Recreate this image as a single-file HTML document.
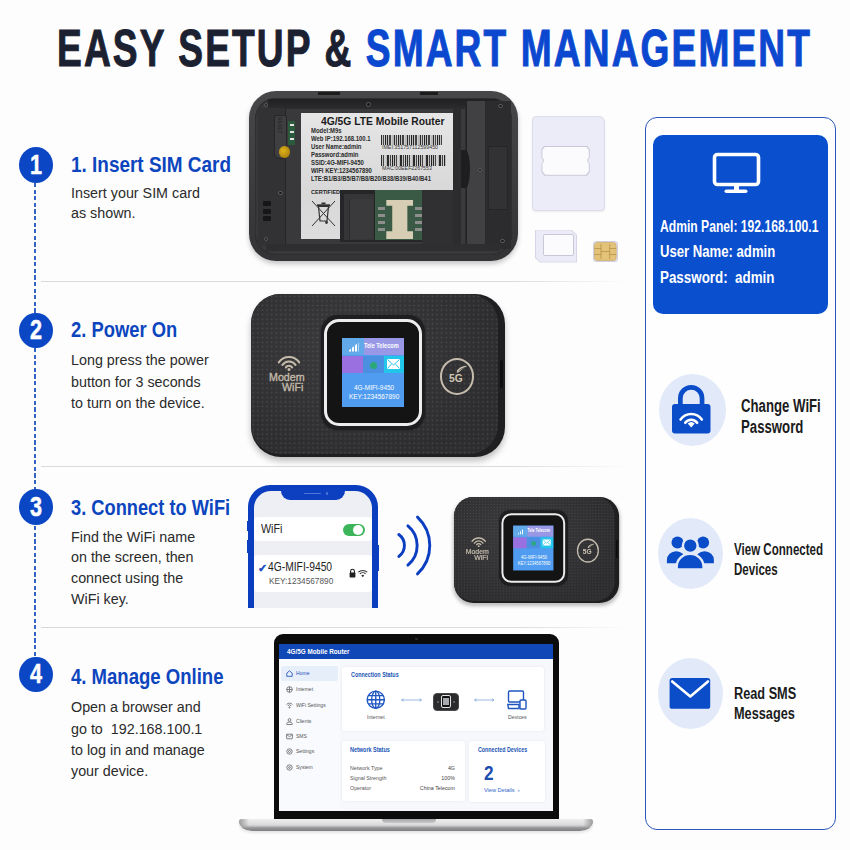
<!DOCTYPE html><html><head><meta charset="utf-8"><style>
*{margin:0;padding:0;box-sizing:border-box}
html,body{width:850px;height:850px;overflow:hidden;background:#fdfdfd}
body{position:relative;font-family:"Liberation Sans",sans-serif}
.a{position:absolute}
.t{position:absolute;white-space:nowrap;transform-origin:0 0}
</style></head><body>
<div class="t" style="left:57.00px;top:23.13px;font-size:51px;line-height:51px;color:#1b2130;font-weight:bold;transform:scaleX(0.728);-webkit-text-stroke:1px #1b2130;letter-spacing:2.9px;word-spacing:0px">EASY SETUP &amp; <span style="color:#0b48cf;-webkit-text-stroke:1px #0b48cf">SMART MANAGEMENT</span></div>
<div class="a" style="left:41px;top:281px;width:590px;height:1.2px;background:linear-gradient(90deg,#d9d9d9,#dcdcdc 80%,rgba(224,224,224,0))"></div>
<div class="a" style="left:41px;top:466px;width:590px;height:1.2px;background:linear-gradient(90deg,#d9d9d9,#dcdcdc 80%,rgba(224,224,224,0))"></div>
<div class="a" style="left:41px;top:627px;width:590px;height:1.2px;background:linear-gradient(90deg,#d9d9d9,#dcdcdc 80%,rgba(224,224,224,0))"></div>
<div class="a" style="left:34.4px;top:183px;width:1.7px;height:474px;background:repeating-linear-gradient(180deg,#3563c4 0 4.2px,transparent 4.2px 6.6px)"></div>
<div class="a" style="left:19.10px;top:147.20px;width:34px;height:35.6px;border-radius:50%;background:#0b47c4"></div>
<div class="t" style="left:29.60px;top:151.84px;font-size:27px;line-height:27px;color:#fff;font-weight:bold;transform:scaleX(0.8);-webkit-text-stroke:0.5px #fff">1</div>
<div class="t" style="left:71.30px;top:152.98px;font-size:22.7px;line-height:22.7px;color:#0c45be;font-weight:bold;transform:scaleX(0.835);">1. Insert SIM Card</div>
<div class="t" style="left:71.00px;top:182.66px;font-size:15.4px;line-height:20px;color:#2b2b2b;font-weight:normal;transform:scaleX(0.93);">Insert your SIM card<br>as shown.</div>
<div class="a" style="left:19.10px;top:312.70px;width:34px;height:35.6px;border-radius:50%;background:#0b47c4"></div>
<div class="t" style="left:29.60px;top:317.34px;font-size:27px;line-height:27px;color:#fff;font-weight:bold;transform:scaleX(0.8);-webkit-text-stroke:0.5px #fff">2</div>
<div class="t" style="left:71.30px;top:318.18px;font-size:22.7px;line-height:22.7px;color:#0c45be;font-weight:bold;transform:scaleX(0.81);">2. Power On</div>
<div class="t" style="left:71.00px;top:349.26px;font-size:15.4px;line-height:21.4px;color:#2b2b2b;font-weight:normal;transform:scaleX(0.93);">Long press the power<br>button for 3 seconds<br>to turn on the device.</div>
<div class="a" style="left:19.10px;top:489.20px;width:34px;height:35.6px;border-radius:50%;background:#0b47c4"></div>
<div class="t" style="left:29.60px;top:493.84px;font-size:27px;line-height:27px;color:#fff;font-weight:bold;transform:scaleX(0.8);-webkit-text-stroke:0.5px #fff">3</div>
<div class="t" style="left:71.30px;top:495.78px;font-size:22.7px;line-height:22.7px;color:#0c45be;font-weight:bold;transform:scaleX(0.805);">3. Connect to WiFi</div>
<div class="t" style="left:71.00px;top:526.76px;font-size:15.4px;line-height:20.6px;color:#2b2b2b;font-weight:normal;transform:scaleX(0.93);">Find the WiFi name<br>on the screen, then<br>connect using the<br>WiFi key.</div>
<div class="a" style="left:19.10px;top:656.70px;width:34px;height:35.6px;border-radius:50%;background:#0b47c4"></div>
<div class="t" style="left:29.60px;top:661.34px;font-size:27px;line-height:27px;color:#fff;font-weight:bold;transform:scaleX(0.8);-webkit-text-stroke:0.5px #fff">4</div>
<div class="t" style="left:71.30px;top:665.18px;font-size:22.7px;line-height:22.7px;color:#0c45be;font-weight:bold;transform:scaleX(0.817);">4. Manage Online</div>
<div class="t" style="left:71.00px;top:696.46px;font-size:15.4px;line-height:21.2px;color:#2b2b2b;font-weight:normal;transform:scaleX(0.93);">Open a browser and<br>go to&nbsp; 192.168.100.1<br>to log in and manage<br>your device.</div>
<div class="a" style="left:644.5px;top:117px;width:191.5px;height:713px;border:1.6px solid #2a55bd;border-radius:12px;background:#fefefe"></div>
<div class="a" style="left:653px;top:135px;width:175px;height:179px;border-radius:10px;background:#0a4fce"></div>
<svg class="a" style="left:705px;top:148px" width="62" height="50" viewBox="0 0 62 50"><rect x="9.5" y="6.5" width="44" height="30" rx="3" fill="none" stroke="#fff" stroke-width="3.6"/><rect x="29" y="37" width="5" height="6" fill="#fff"/><rect x="19.5" y="41.5" width="23" height="3.6" rx="1.8" fill="#fff"/></svg>
<div class="t" style="left:659.50px;top:218.66px;font-size:16px;line-height:16px;color:#fff;font-weight:bold;transform:scaleX(0.758);">Admin Panel: 192.168.100.1</div>
<div class="t" style="left:659.50px;top:244.06px;font-size:16px;line-height:16px;color:#fff;font-weight:bold;transform:scaleX(0.82);">User Name: admin</div>
<div class="t" style="left:659.50px;top:270.06px;font-size:16px;line-height:16px;color:#fff;font-weight:bold;transform:scaleX(0.836);">Password:&nbsp; admin</div>
<div class="a" style="left:658.75px;top:373.80px;width:67.7px;height:72.4px;border-radius:50%;background:#e2eaf9"></div>
<div class="a" style="left:658.00px;top:517.50px;width:65px;height:71px;border-radius:50%;background:#e2eaf9"></div>
<div class="a" style="left:658.45px;top:657.70px;width:64.5px;height:71px;border-radius:50%;background:#e2eaf9"></div>
<svg class="a" style="left:670px;top:382px" width="44" height="54" viewBox="0 0 44 54"><path d="M10.35 22 V16.2 a10.85 10.85 0 0 1 21.7 0 V22" fill="none" stroke="#0b4cc9" stroke-width="4.7"/><rect x="2" y="21.9" width="38.5" height="29.6" rx="3" fill="#0b4cc9"/><path d="M10.55 37.54 A13 13 0 0 1 31.85 37.54" fill="none" stroke="#fff" stroke-width="2.6" stroke-linecap="round"/><path d="M15.22 40.8 A7.3 7.3 0 0 1 27.18 40.8" fill="none" stroke="#fff" stroke-width="2.6" stroke-linecap="round"/><path d="M21.2 45.6 L17.72 41.54 A5.2 5.2 0 0 1 24.68 41.54 Z" fill="#fff"/></svg>
<div class="t" style="left:740.80px;top:395.50px;font-size:17.6px;line-height:21px;color:#1b1b1b;font-weight:bold;transform:scaleX(0.75);">Change WiFi<br>Password</div>
<svg class="a" style="left:655px;top:515px" width="70" height="75" viewBox="655 515 70 75"><g fill="#0b4cc9"><circle cx="677.5" cy="542.5" r="6"/><circle cx="703.1" cy="542.5" r="6"/><path d="M666.9 563.2 V560 a9.2 8.8 0 0 1 9.2 -8.8 h0.2 a9.2 8.8 0 0 1 9.2 8.8 V563.2 z"/><path d="M695.3 563.2 V560 a9.2 8.8 0 0 1 9.2 -8.8 h0.2 a9.2 8.8 0 0 1 9.2 8.8 V563.2 z"/></g><g fill="#0b4cc9" stroke="#e2eaf9" stroke-width="2.4"><circle cx="690.3" cy="545.6" r="7.4"/><path d="M676.7 569.4 V566.5 a13.4 12.6 0 0 1 26.8 0 V569.4 z"/></g></svg>
<div class="t" style="left:733.50px;top:539.51px;font-size:17px;line-height:20px;color:#1b1b1b;font-weight:bold;transform:scaleX(0.68);">View Connected<br>Devices</div>
<svg class="a" style="left:655px;top:655px" width="70" height="75" viewBox="655 655 70 75"><rect x="669.6" y="678" width="40.6" height="30.8" rx="2.6" fill="#0b4cc9"/><path d="M672.2 681.5 L690.3 696.5 L708 681.5" fill="none" stroke="#fff" stroke-width="2.6" stroke-linecap="round" stroke-linejoin="round"/></svg>
<div class="t" style="left:733.50px;top:682.54px;font-size:17.2px;line-height:20px;color:#1b1b1b;font-weight:bold;transform:scaleX(0.74);">Read SMS<br>Messages</div>
<div class="a" style="left:248.5px;top:91px;width:269.5px;height:170px;border-radius:27px;background:linear-gradient(180deg,#47474a,#333336);box-shadow:0 3px 5px rgba(0,0,0,0.22)"></div>
<div class="a" style="left:255px;top:98px;width:256.5px;height:157px;border-radius:21px;background:#39393b;box-shadow:inset 0 0 2px #151515"></div>
<div class="a" style="left:268px;top:99px;width:230px;height:10px;background:linear-gradient(180deg,#202022,#2c2c2e)"></div>
<div class="a" style="left:318px;top:92px;width:16px;height:3px;background:#1c1c1c"></div>
<div class="a" style="left:330px;top:92px;width:10px;height:3px;background:#1c1c1c"></div>
<div class="a" style="left:420px;top:92px;width:18px;height:3px;background:#1c1c1c"></div>
<div class="a" style="left:258px;top:108px;width:28px;height:138px;background:#323234"></div>
<div class="a" style="left:285px;top:108px;width:1.2px;height:138px;background:#262628"></div>
<div class="a" style="left:274px;top:115px;width:13px;height:44px;border-radius:3px 3px 6px 6px;background:#3f3f41;border:0.8px solid #262628"></div>
<div class="t" style="left:276px;top:117px;font-size:5px;line-height:5px;color:#222;transform-origin:0 0;transform:rotate(90deg) translate(0,-6px)">RESET</div>
<div class="a" style="left:287.7px;top:121.3px;width:7.3px;height:24px;background:#2b5a3c"></div>
<div class="a" style="left:289.5px;top:124px;width:4px;height:2.2px;background:#e2e2e2"></div>
<div class="a" style="left:289.5px;top:131px;width:4px;height:2.2px;background:#e2e2e2"></div>
<div class="a" style="left:289.5px;top:138px;width:4px;height:2.2px;background:#e2e2e2"></div>
<div class="a" style="left:279.4px;top:146.3px;width:10.4px;height:11.5px;border-radius:50%;background:radial-gradient(circle at 40% 40%,#e0b21a,#9a7208)"></div>
<div class="a" style="left:262.7px;top:201px;width:8.3px;height:5.2px;border-radius:1px;background:#161618"></div>
<div class="a" style="left:262.7px;top:208.5px;width:8.3px;height:5.2px;border-radius:1px;background:#161618"></div>
<div class="a" style="left:262.7px;top:216px;width:8.3px;height:5.2px;border-radius:1px;background:#161618"></div>
<div class="a" style="left:263.6px;top:102.5px;width:4.4px;height:4.4px;border-radius:50%;background:#1b1b1d;border:0.8px solid #5a5a5c"></div>
<div class="a" style="left:278.2px;top:191.0px;width:4.4px;height:4.4px;border-radius:50%;background:#1b1b1d;border:0.8px solid #5a5a5c"></div>
<div class="a" style="left:263.6px;top:236.8px;width:4.4px;height:4.4px;border-radius:50%;background:#1b1b1d;border:0.8px solid #5a5a5c"></div>
<div class="a" style="left:498.2px;top:103.5px;width:4.4px;height:4.4px;border-radius:50%;background:#1b1b1d;border:0.8px solid #5a5a5c"></div>
<div class="a" style="left:500.3px;top:238.8px;width:4.4px;height:4.4px;border-radius:50%;background:#1b1b1d;border:0.8px solid #5a5a5c"></div>
<div class="a" style="left:477.8px;top:167.8px;width:4.4px;height:4.4px;border-radius:50%;background:#1b1b1d;border:0.8px solid #5a5a5c"></div>
<div class="a" style="left:366.40000000000003px;top:102.3px;width:4.4px;height:4.4px;border-radius:50%;background:#1b1b1d;border:0.8px solid #5a5a5c"></div>
<div class="a" style="left:300.5px;top:113px;width:152.5px;height:77px;background:linear-gradient(180deg,#e6e6e6,#d8d8d8)"></div>
<div class="a" style="left:300.5px;top:189px;width:39.5px;height:49.5px;background:linear-gradient(180deg,#d8d8d8,#dcdcdc)"></div>
<div class="t" style="left:320.50px;top:116.73px;font-size:10px;line-height:10px;color:#1a1a1a;font-weight:bold;transform:scaleX(1.03);">4G/5G LTE Mobile Router</div>
<div class="t" style="left:310.80px;top:126.97px;font-size:6.6px;line-height:8.08px;color:#2a2a2a;font-weight:bold;transform:scaleX(0.9);">Model:M9s<br>Web IP:192.168.100.1<br>User Name:admin<br>Password:admin<br>SSID:4G-MIFI-9450<br>WIFI KEY:1234567890<br>LTE:B1/B3/B5/B7/B8/B20/B38/B39/B40/B41</div>
<div class="a" style="left:381px;top:134.5px;width:61px;height:10.5px;background:repeating-linear-gradient(90deg,#2a2a2a 0 1px,#c4c4c4 1px 2px,#444 2px 3.5px,#d0d0d0 3.5px 4.5px,#222 4.5px 5px,#b8b8b8 5px 6.5px)"></div>
<div class="t" style="left:381.50px;top:145.43px;font-size:5.4px;line-height:5.4px;color:#333;font-weight:normal;transform:scaleX(0.98);">IMEI:351757112599450</div>
<div class="a" style="left:381px;top:155px;width:65px;height:10.5px;background:repeating-linear-gradient(90deg,#2a2a2a 0 1.5px,#c4c4c4 1.5px 2.5px,#444 2.5px 3.5px,#d0d0d0 3.5px 5px,#222 5px 5.5px,#b8b8b8 5.5px 6.5px)"></div>
<div class="t" style="left:381.50px;top:166.13px;font-size:5.4px;line-height:5.4px;color:#333;font-weight:normal;transform:scaleX(0.98);">MAC:00EEF2267553</div>
<div class="t" style="left:310.80px;top:190.09px;font-size:5.8px;line-height:5.8px;color:#222;font-weight:bold;transform:scaleX(0.95);">CERTIFIED</div>
<svg class="a" style="left:311px;top:200px" width="25" height="28" viewBox="0 0 25 28"><path d="M1 1 L24 26 M24 1 L1 26" stroke="#333" stroke-width="1"/><path d="M7.5 6.5 L9 21 H16 L17.5 6.5 Z" fill="none" stroke="#333" stroke-width="1.2"/><rect x="6" y="4.3" width="13" height="1.8" fill="#333"/><rect x="10.5" y="2.5" width="4" height="1.8" fill="#333"/><circle cx="15.5" cy="22.5" r="1.4" fill="#333"/></svg>
<div class="a" style="left:340px;top:190px;width:124px;height:52px;background:#262628"></div>
<div class="a" style="left:344px;top:194px;width:30px;height:46px;background:#353537"></div>
<div class="a" style="left:349px;top:199px;width:24px;height:40px;background:#3a3a3c;border-left:1px solid #2a2a2c"></div>
<div class="a" style="left:374.6px;top:190.4px;width:47.6px;height:50px;background:#3b5a45"></div>
<div class="a" style="left:386.3px;top:200px;width:27px;height:39px;background:#d6cdb4;clip-path:polygon(0 0,100% 0,100% 15%,78% 15%,78% 80%,100% 80%,100% 100%,0 100%,0 80%,22% 80%,22% 15%,0 15%)"></div>
<div class="a" style="left:378px;top:207px;width:7px;height:3px;background:#8e8e8e"></div>
<div class="a" style="left:414.5px;top:207px;width:7px;height:3px;background:#8e8e8e"></div>
<div class="a" style="left:378px;top:214px;width:7px;height:3px;background:#8e8e8e"></div>
<div class="a" style="left:414.5px;top:214px;width:7px;height:3px;background:#8e8e8e"></div>
<div class="a" style="left:378px;top:221px;width:7px;height:3px;background:#8e8e8e"></div>
<div class="a" style="left:414.5px;top:221px;width:7px;height:3px;background:#8e8e8e"></div>
<div class="a" style="left:378px;top:228px;width:7px;height:3px;background:#8e8e8e"></div>
<div class="a" style="left:414.5px;top:228px;width:7px;height:3px;background:#8e8e8e"></div>
<div class="a" style="left:422.2px;top:190px;width:42px;height:54px;background:#303032"></div>
<div class="a" style="left:453px;top:109px;width:13px;height:136px;background:#2c2c2e"></div>
<div class="a" style="left:461px;top:109px;width:4px;height:136px;background:#3a3a3c"></div>
<div class="a" style="left:466px;top:101px;width:19px;height:148px;background:#414143;border-left:1px solid #222"></div>
<div class="a" style="left:461px;top:150px;width:9px;height:38px;border-radius:0 50% 50% 0;background:#1e1e20"></div>
<div class="a" style="left:485px;top:101px;width:26px;height:148px;background:#2c2c2e"></div>
<div class="a" style="left:488px;top:146px;width:20px;height:64px;background:#323234;border:0.8px solid #262628"></div>
<div class="a" style="left:477.8px;top:167.8px;width:4.4px;height:4.4px;border-radius:50%;background:#1b1b1d;border:0.8px solid #5a5a5c"></div>
<div class="a" style="left:498.2px;top:103.5px;width:4.4px;height:4.4px;border-radius:50%;background:#1b1b1d;border:0.8px solid #5a5a5c"></div>
<div class="a" style="left:500.3px;top:238.8px;width:4.4px;height:4.4px;border-radius:50%;background:#1b1b1d;border:0.8px solid #5a5a5c"></div>
<div class="a" style="left:266px;top:244px;width:234px;height:7px;background:#2e2e30"></div>
<div class="a" style="left:532.3px;top:116.4px;width:73px;height:95px;border-radius:4px 6px 4px 4px;background:#ececf8;border:0.8px solid #dcdcec;box-shadow:0 1px 2px rgba(0,0,0,0.08)"></div>
<div class="a" style="left:541.4px;top:145.6px;width:48.4px;height:30.1px;background:#c9c9d9;clip-path:polygon(6% 0,94% 0,100% 12%,100% 40%,97% 45%,97% 55%,100% 60%,100% 88%,94% 100%,6% 100%,0 88%,0 60%,3% 55%,3% 45%,0 40%,0 12%)"></div>
<div class="a" style="left:542.4px;top:146.6px;width:46.4px;height:28.1px;background:#fbfbfd;clip-path:polygon(6% 0,94% 0,100% 12%,100% 40%,97% 45%,97% 55%,100% 60%,100% 88%,94% 100%,6% 100%,0 88%,0 60%,3% 55%,3% 45%,0 40%,0 12%)"></div>
<div class="a" style="left:535px;top:229.5px;width:42px;height:33px;background:#d6d6e6;clip-path:polygon(0 0,86% 0,100% 16%,100% 100%,12% 100%,0 86%)"></div>
<div class="a" style="left:535.8px;top:230.3px;width:40.4px;height:31.4px;background:#ebebf7;clip-path:polygon(0 0,86% 0,100% 16%,100% 100%,12% 100%,0 86%)"></div>
<div class="a" style="left:543.2px;top:233.5px;width:30.5px;height:22.5px;border-radius:2px;background:#fbfbfd;border:1.1px solid #c8c8d8"></div>
<div class="a" style="left:592.5px;top:240.5px;width:25.5px;height:21px;border-radius:3px;background:#e4e4f2;border:0.8px solid #d0d0e2"></div>
<svg class="a" style="left:594.3px;top:241.6px" width="22.7" height="19" viewBox="0 0 22.7 19"><rect x="0.5" y="0.5" width="21.7" height="18" rx="3" fill="#e3c27a" stroke="#c9a457" stroke-width="0.6"/><g fill="none" stroke="#a88435" stroke-width="0.6"><path d="M0.5 6.5 H7 M0.5 12.5 H7 M15.7 6.5 H22.2 M15.7 12.5 H22.2 M7 2 V17 M15.7 2 V17 M7 9.5 H15.7"/></g></svg>
<div class="a" style="left:251px;top:294px;width:254px;height:163px;transform-origin:0 0;transform:scale(1.0)">
<div class="a" style="left:0;top:0;width:254px;height:163px;border-radius:30px;background:#1f1f21;box-shadow:0 4px 6px rgba(0,0,0,0.25)"></div>
<div class="a" style="left:0;top:0;width:247px;height:160px;border-radius:29px;background:radial-gradient(ellipse at 40% 35%,#3b3b3d,#2d2d2f 75%);"></div>
<div class="a" style="left:0;top:0;width:247px;height:160px;border-radius:29px;background-image:radial-gradient(circle,rgba(255,255,255,0.10) 0.75px,transparent 1.15px);background-size:4.6px 4.6px"></div>
<div class="a" style="left:249px;top:66px;width:3px;height:28px;border-radius:2px;background:#0e0e0e"></div>
<div class="a" style="left:69.5px;top:21px;width:104.6px;height:114.7px;border-radius:17px;background:#1e1e20;box-shadow:0 0 2px rgba(0,0,0,0.5)"></div>
<div class="a" style="left:73px;top:24.5px;width:97.6px;height:107.7px;border-radius:15px;border:3px solid #ededed;background:#141415"></div>
<div class="a" style="left:90.5px;top:43.6px;width:62.5px;height:69.4px;background:#4f9cf0;overflow:hidden"><div class="a" style="left:0;top:0;width:22px;height:17.7px;background:#62a9ea"></div><div class="a" style="left:22px;top:0;width:40.5px;height:17.7px;background:#9898e6"></div><div class="a" style="left:0;top:18px;width:21px;height:17.6px;background:#9a6fe0"></div><div class="a" style="left:21.5px;top:18px;width:20.5px;height:17.6px;background:#4a8fe0"></div><div class="a" style="left:42.5px;top:18px;width:20px;height:17.6px;background:#22c6ea"></div><div class="a" style="left:6px;top:5px;width:11px;height:9px;background:linear-gradient(90deg,transparent 0 1px,#fff 1px 3px,transparent 3px 4px,#fff 4px 6px,transparent 6px 7px,#fff 7px 9px,transparent 9px 10px,#fff 10px 12px);clip-path:polygon(0 100%,100% 0,100% 100%)"></div><svg class="a" style="left:45.5px;top:21.5px" width="13" height="10" viewBox="0 0 13 10"><rect width="13" height="10" fill="#fff"/><path d="M0.5 0.5 L6.5 6 L12.5 0.5 M0.5 9.5 L4.5 5 M12.5 9.5 L8.5 5" fill="none" stroke="#22c6ea" stroke-width="1"/></svg><div class="a" style="left:28px;top:24px;width:7px;height:7px;border-radius:50%;background:#2aa878"></div></div>
<div class="t" style="left:113px;top:48.37px;font-size:7px;line-height:7px;color:#fff;transform:scaleX(0.8)"><b>Tele Telecom</b></div>
<div class="t" style="left:103px;top:89.65px;font-size:7.5px;line-height:7.5px;color:#fff;transform:scaleX(0.86)">4G-MIFI-9450</div>
<div class="t" style="left:98px;top:98.65px;font-size:7.5px;line-height:7.5px;color:#fff;transform:scaleX(0.86)">KEY:1234567890</div>
<svg class="a" style="left:26px;top:61px" width="24" height="17" viewBox="0 0 24 17"><g fill="none" stroke="#c4bbab" stroke-width="2.1" stroke-linecap="round"><path d="M1.8 7.3 A12.5 12.5 0 0 1 22.2 7.3"/><path d="M5.45 9.9 A8 8 0 0 1 18.55 9.9"/><path d="M8.9 12.3 A3.8 3.8 0 0 1 15.1 12.3"/></g><circle cx="12" cy="14.6" r="1.5" fill="#c4bbab"/></svg>
<div class="t" style="left:18.2px;top:78.4px;font-size:11px;line-height:11px;color:#c4bbab;transform:scaleX(0.97);-webkit-text-stroke:0.35px #c4bbab">Modem</div>
<div class="t" style="left:30.9px;top:87.6px;font-size:11px;line-height:11px;color:#c4bbab;transform:scaleX(0.97);-webkit-text-stroke:0.35px #c4bbab">WiFi</div>
<div class="a" style="left:188.7px;top:63.8px;width:34.5px;height:36.8px;border-radius:50%;border:2.1px solid #c5bcae"></div>
<div class="t" style="left:197.6px;top:79px;font-size:11px;line-height:11px;font-weight:bold;color:#cfc6b6;transform:scaleX(0.93)">5G</div>
<svg class="a" style="left:204.5px;top:70.5px" width="12" height="8" viewBox="0 0 12 8"><path d="M0.5 7.5 Q2 1 11.5 0.8 Q8 3 6 4.5 Q4 6 2.5 7.5 z" fill="#cfc6b6"/><path d="M2.5 6 Q5 3.2 9 2.6" fill="none" stroke="#2a2a2c" stroke-width="0.6"/></svg>
</div>
<div class="a" style="left:453.6px;top:497px;width:254px;height:163px;transform-origin:0 0;transform:scale(0.65)">
<div class="a" style="left:0;top:0;width:254px;height:163px;border-radius:30px;background:#1f1f21;box-shadow:0 4px 6px rgba(0,0,0,0.25)"></div>
<div class="a" style="left:0;top:0;width:247px;height:160px;border-radius:29px;background:radial-gradient(ellipse at 40% 35%,#3b3b3d,#2d2d2f 75%);"></div>
<div class="a" style="left:0;top:0;width:247px;height:160px;border-radius:29px;background-image:radial-gradient(circle,rgba(255,255,255,0.10) 0.75px,transparent 1.15px);background-size:4.6px 4.6px"></div>
<div class="a" style="left:249px;top:66px;width:3px;height:28px;border-radius:2px;background:#0e0e0e"></div>
<div class="a" style="left:69.5px;top:21px;width:104.6px;height:114.7px;border-radius:17px;background:#1e1e20;box-shadow:0 0 2px rgba(0,0,0,0.5)"></div>
<div class="a" style="left:73px;top:24.5px;width:97.6px;height:107.7px;border-radius:15px;border:3px solid #ededed;background:#141415"></div>
<div class="a" style="left:90.5px;top:43.6px;width:62.5px;height:69.4px;background:#4f9cf0;overflow:hidden"><div class="a" style="left:0;top:0;width:22px;height:17.7px;background:#62a9ea"></div><div class="a" style="left:22px;top:0;width:40.5px;height:17.7px;background:#9898e6"></div><div class="a" style="left:0;top:18px;width:21px;height:17.6px;background:#9a6fe0"></div><div class="a" style="left:21.5px;top:18px;width:20.5px;height:17.6px;background:#4a8fe0"></div><div class="a" style="left:42.5px;top:18px;width:20px;height:17.6px;background:#22c6ea"></div><div class="a" style="left:6px;top:5px;width:11px;height:9px;background:linear-gradient(90deg,transparent 0 1px,#fff 1px 3px,transparent 3px 4px,#fff 4px 6px,transparent 6px 7px,#fff 7px 9px,transparent 9px 10px,#fff 10px 12px);clip-path:polygon(0 100%,100% 0,100% 100%)"></div><svg class="a" style="left:45.5px;top:21.5px" width="13" height="10" viewBox="0 0 13 10"><rect width="13" height="10" fill="#fff"/><path d="M0.5 0.5 L6.5 6 L12.5 0.5 M0.5 9.5 L4.5 5 M12.5 9.5 L8.5 5" fill="none" stroke="#22c6ea" stroke-width="1"/></svg><div class="a" style="left:28px;top:24px;width:7px;height:7px;border-radius:50%;background:#2aa878"></div></div>
<div class="t" style="left:113px;top:48.37px;font-size:7px;line-height:7px;color:#fff;transform:scaleX(0.8)"><b>Tele Telecom</b></div>
<div class="t" style="left:103px;top:89.65px;font-size:7.5px;line-height:7.5px;color:#fff;transform:scaleX(0.86)">4G-MIFI-9450</div>
<div class="t" style="left:98px;top:98.65px;font-size:7.5px;line-height:7.5px;color:#fff;transform:scaleX(0.86)">KEY:1234567890</div>
<svg class="a" style="left:26px;top:61px" width="24" height="17" viewBox="0 0 24 17"><g fill="none" stroke="#c4bbab" stroke-width="2.1" stroke-linecap="round"><path d="M1.8 7.3 A12.5 12.5 0 0 1 22.2 7.3"/><path d="M5.45 9.9 A8 8 0 0 1 18.55 9.9"/><path d="M8.9 12.3 A3.8 3.8 0 0 1 15.1 12.3"/></g><circle cx="12" cy="14.6" r="1.5" fill="#c4bbab"/></svg>
<div class="t" style="left:18.2px;top:78.4px;font-size:11px;line-height:11px;color:#c4bbab;transform:scaleX(0.97);-webkit-text-stroke:0.35px #c4bbab">Modem</div>
<div class="t" style="left:30.9px;top:87.6px;font-size:11px;line-height:11px;color:#c4bbab;transform:scaleX(0.97);-webkit-text-stroke:0.35px #c4bbab">WiFi</div>
<div class="a" style="left:188.7px;top:63.8px;width:34.5px;height:36.8px;border-radius:50%;border:2.1px solid #c5bcae"></div>
<div class="t" style="left:197.6px;top:79px;font-size:11px;line-height:11px;font-weight:bold;color:#cfc6b6;transform:scaleX(0.93)">5G</div>
<svg class="a" style="left:204.5px;top:70.5px" width="12" height="8" viewBox="0 0 12 8"><path d="M0.5 7.5 Q2 1 11.5 0.8 Q8 3 6 4.5 Q4 6 2.5 7.5 z" fill="#cfc6b6"/><path d="M2.5 6 Q5 3.2 9 2.6" fill="none" stroke="#2a2a2c" stroke-width="0.6"/></svg>
</div>
<svg class="a" style="left:386px;top:504.5px" width="60" height="80" viewBox="385 505 60 80"><g fill="none" stroke="#0b3ec0" stroke-width="2.9" stroke-linecap="round"><path d="M397.8 534.5 A13.6 13.6 0 0 1 397.8 556.5"/><path d="M406.9 525.9 A25.4 25.4 0 0 1 406.9 565.1"/><path d="M416.5 517.1 A39 39 0 0 1 416.5 573.9"/></g></svg>
<div class="a" style="left:248px;top:485.2px;width:129.6px;height:122.8px;border-radius:22px 22px 0 0;background:#0b3ebf"></div>
<div class="a" style="left:254px;top:490.5px;width:117.5px;height:117.5px;border-radius:17px 17px 0 0;background:#eeeff5"></div>
<div class="a" style="left:280.6px;top:488px;width:64.4px;height:11.7px;border-radius:0 0 9px 9px;background:#0d3fc1"></div>
<div class="a" style="left:303.5px;top:492.8px;width:17px;height:1.6px;border-radius:1px;background:#4d78d8"></div>
<div class="a" style="left:325.5px;top:492.3px;width:2.6px;height:2.6px;border-radius:50%;background:#4d78d8"></div>
<div class="a" style="left:246.5px;top:521px;width:2px;height:10px;background:#0d3fc1"></div>
<div class="a" style="left:246.5px;top:540px;width:2px;height:13px;background:#0d3fc1"></div>
<div class="a" style="left:377px;top:545px;width:2px;height:26px;background:#0d3fc1"></div>
<div class="a" style="left:254px;top:517px;width:117.5px;height:24px;border-radius:4px;background:#fff"></div>
<div class="t" style="left:261.00px;top:523.47px;font-size:12.2px;line-height:12.2px;color:#222;font-weight:normal;transform:scaleX(0.88);">WiFi</div>
<div class="a" style="left:343px;top:524px;width:22px;height:12.4px;border-radius:7px;background:#3cb55a"></div>
<div class="a" style="left:353.3px;top:525.2px;width:10.2px;height:10.2px;border-radius:50%;background:#fff"></div>
<div class="a" style="left:254px;top:555px;width:117.5px;height:36.5px;border-radius:4px;background:#fff"></div>
<div class="t" style="left:258.00px;top:562.61px;font-size:10.5px;line-height:10.5px;color:#1f4fc0;font-weight:bold;transform:scaleX(1);-webkit-text-stroke:0.4px #1f4fc0">&#10003;</div>
<div class="t" style="left:267.80px;top:560.87px;font-size:12.2px;line-height:12.2px;color:#1e1e1e;font-weight:normal;transform:scaleX(0.845);">4G-MIFI-9450</div>
<div class="t" style="left:269.00px;top:575.54px;font-size:9.4px;line-height:9.4px;color:#555;font-weight:normal;transform:scaleX(0.88);">KEY:1234567890</div>
<svg class="a" style="left:348px;top:568px" width="20" height="10" viewBox="0 0 20 10"><path d="M2.6 5 V3.2 a1.9 1.9 0 0 1 3.8 0 V5" fill="none" stroke="#222" stroke-width="1.1"/><rect x="1.6" y="4.6" width="5.8" height="4.8" rx="0.6" fill="#222"/><g fill="none" stroke="#333" stroke-width="1.1"><path d="M10.3 4.2 A6.5 6.5 0 0 1 19.2 4.2"/><path d="M11.9 5.9 A4.1 4.1 0 0 1 17.6 5.9"/></g><path d="M14.75 9.2 L13.3 7.5 A2 2 0 0 1 16.2 7.5 Z" fill="#333"/></svg>
<div class="a" style="left:273.5px;top:634.4px;width:285.5px;height:186px;border-radius:9px 9px 0 0;background:#0c0c0d"></div>
<div class="a" style="left:279px;top:643.5px;width:274px;height:167px;background:#f6f8fc;overflow:hidden"><div class="a" style="left:0;top:0;width:274px;height:15.8px;background:#1048b8"></div><div class="a" style="left:0;top:15.8px;width:60.5px;height:151.2px;background:#f8fafd"></div><div class="a" style="left:2px;top:22px;width:57px;height:15px;border-radius:2px;background:#e6eefa"></div><div class="a" style="left:63px;top:23.8px;width:202px;height:64px;border-radius:3px;background:#fff;box-shadow:0 0 3px rgba(0,0,40,0.08)"></div><div class="a" style="left:63px;top:97px;width:122.5px;height:60.5px;border-radius:3px;background:#fff;box-shadow:0 0 3px rgba(0,0,40,0.08)"></div><div class="a" style="left:190px;top:97px;width:75.5px;height:61px;border-radius:3px;background:#fff;box-shadow:0 0 3px rgba(0,0,40,0.08)"></div></div>
<div class="t" style="left:286.70px;top:648.11px;font-size:7.2px;line-height:7.2px;color:#fff;font-weight:bold;transform:scaleX(0.88);">4G/5G Mobile Router</div>
<div class="t" style="left:296.00px;top:670.86px;font-size:5.6px;line-height:5.6px;color:#1f4fb8;font-weight:normal;transform:scaleX(0.9);">Home</div>
<svg class="a" style="left:286.2px;top:669.90px" width="7" height="7" viewBox="0 0 7 7"><g fill="none" stroke="#1f4fb8" stroke-width="0.85"><path d="M0.8 3.2 L3.5 0.8 L6.2 3.2 V6.3 H0.8 Z"/></g></svg>
<div class="t" style="left:296.00px;top:687.26px;font-size:5.6px;line-height:5.6px;color:#555;font-weight:normal;transform:scaleX(0.9);">Internet</div>
<svg class="a" style="left:286.2px;top:686.30px" width="7" height="7" viewBox="0 0 7 7"><g fill="none" stroke="#6a6a6a" stroke-width="0.85"><circle cx="3.5" cy="3.5" r="2.8"/><path d="M0.7 3.5 H6.3 M3.5 0.7 V6.3"/></g></svg>
<div class="t" style="left:296.00px;top:703.26px;font-size:5.6px;line-height:5.6px;color:#555;font-weight:normal;transform:scaleX(0.9);">WiFi Settings</div>
<svg class="a" style="left:286.2px;top:702.30px" width="7" height="7" viewBox="0 0 7 7"><g fill="none" stroke="#6a6a6a" stroke-width="0.85"><path d="M0.5 2.5 A4 4 0 0 1 6.5 2.5 M1.7 3.8 A2.4 2.4 0 0 1 5.3 3.8"/><circle cx="3.5" cy="5.4" r="0.6"/></g></svg>
<div class="t" style="left:296.00px;top:718.66px;font-size:5.6px;line-height:5.6px;color:#555;font-weight:normal;transform:scaleX(0.9);">Clients</div>
<svg class="a" style="left:286.2px;top:717.70px" width="7" height="7" viewBox="0 0 7 7"><g fill="none" stroke="#6a6a6a" stroke-width="0.85"><circle cx="3.5" cy="2" r="1.4"/><path d="M0.8 6.5 V5.5 Q0.8 4 3.5 4 Q6.2 4 6.2 5.5 V6.5 Z"/></g></svg>
<div class="t" style="left:296.00px;top:734.26px;font-size:5.6px;line-height:5.6px;color:#555;font-weight:normal;transform:scaleX(0.9);">SMS</div>
<svg class="a" style="left:286.2px;top:733.30px" width="7" height="7" viewBox="0 0 7 7"><g fill="none" stroke="#6a6a6a" stroke-width="0.85"><rect x="0.6" y="1.2" width="5.8" height="4.6" rx="0.5"/><path d="M0.6 1.4 L3.5 3.8 L6.4 1.4"/></g></svg>
<div class="t" style="left:296.00px;top:749.26px;font-size:5.6px;line-height:5.6px;color:#555;font-weight:normal;transform:scaleX(0.9);">Settings</div>
<svg class="a" style="left:286.2px;top:748.30px" width="7" height="7" viewBox="0 0 7 7"><g fill="none" stroke="#6a6a6a" stroke-width="0.85"><circle cx="3.5" cy="3.5" r="2.7"/><circle cx="3.5" cy="3.5" r="1"/></g></svg>
<div class="t" style="left:296.00px;top:764.66px;font-size:5.6px;line-height:5.6px;color:#555;font-weight:normal;transform:scaleX(0.9);">System</div>
<svg class="a" style="left:286.2px;top:763.70px" width="7" height="7" viewBox="0 0 7 7"><g fill="none" stroke="#6a6a6a" stroke-width="0.85"><circle cx="3.5" cy="3.5" r="2.7"/><circle cx="3.5" cy="3.5" r="0.9"/></g></svg>
<div class="t" style="left:350.70px;top:671.07px;font-size:7.6px;line-height:7.6px;color:#2255b5;font-weight:bold;transform:scaleX(0.71);">Connection Status</div>
<svg class="a" style="left:365.5px;top:690.3px" width="19.5" height="19.5" viewBox="0 0 20 20"><g fill="none" stroke="#1f56c0" stroke-width="1.4"><circle cx="10" cy="10" r="8.8"/><ellipse cx="10" cy="10" rx="4.2" ry="8.8"/><path d="M10 1.2 V18.8 M1.2 10 H18.8 M2.2 5.8 H17.8 M2.2 14.2 H17.8"/></g></svg>
<div class="t" style="left:367.00px;top:714.59px;font-size:5.8px;line-height:5.8px;color:#555;font-weight:normal;transform:scaleX(0.9);">Internet</div>
<div class="t" style="left:508.00px;top:714.59px;font-size:5.8px;line-height:5.8px;color:#555;font-weight:normal;transform:scaleX(0.9);">Devices</div>
<svg class="a" style="left:400px;top:697px" width="96" height="6" viewBox="400 697 96 6"><g fill="none" stroke="#8fb0dc" stroke-width="0.9"><path d="M401.5 700 H421.5 M401.5 700 l2 -1.3 M401.5 700 l2 1.3 M421.5 700 l-2 -1.3 M421.5 700 l-2 1.3"/><path d="M474.5 700 H494 M474.5 700 l2 -1.3 M474.5 700 l2 1.3 M494 700 l-2 -1.3 M494 700 l-2 1.3"/></g></svg>
<div class="a" style="left:433px;top:692.8px;width:25.6px;height:18px;border-radius:4px;background:#2b2b2d;border:0.8px solid #4a4a4c"></div>
<div class="a" style="left:440.6px;top:695.2px;width:10.6px;height:13px;border-radius:2px;background:#141414;border:1.2px solid #e6e6e6"></div><div class="a" style="left:443px;top:697.8px;width:5.8px;height:7.6px;background:#a9a9b0"></div><div class="a" style="left:436.5px;top:700.5px;width:2px;height:2px;border-radius:50%;border:0.6px solid #888"></div><div class="a" style="left:453.3px;top:700.5px;width:2px;height:2px;border-radius:50%;border:0.6px solid #888"></div>
<svg class="a" style="left:506.5px;top:690px" width="20" height="20" viewBox="0 0 20 20"><g fill="none" stroke="#1f56c0" stroke-width="1.4"><rect x="1.5" y="1" width="15" height="11" rx="1.2"/><path d="M0.8 14.5 H12 V18.5 H1.5 z"/><rect x="13" y="10" width="6" height="9" rx="1" fill="#fff"/></g></svg>
<div class="t" style="left:350.40px;top:746.24px;font-size:7.4px;line-height:7.4px;color:#2255b5;font-weight:bold;transform:scaleX(0.74);">Network Status</div>
<div class="t" style="left:350.40px;top:765.59px;font-size:5.8px;line-height:5.8px;color:#555;font-weight:normal;transform:scaleX(0.92);">Network Type</div>
<div class="t" style="left:394.5px;top:765.59px;width:60px;text-align:right;font-size:5.8px;line-height:5.8px;color:#444;transform-origin:100% 0;transform:scaleX(0.92)">4G</div>
<div class="t" style="left:350.40px;top:775.69px;font-size:5.8px;line-height:5.8px;color:#555;font-weight:normal;transform:scaleX(0.92);">Signal Strength</div>
<div class="t" style="left:394.5px;top:775.69px;width:60px;text-align:right;font-size:5.8px;line-height:5.8px;color:#444;transform-origin:100% 0;transform:scaleX(0.92)">100%</div>
<div class="t" style="left:350.40px;top:786.09px;font-size:5.8px;line-height:5.8px;color:#555;font-weight:normal;transform:scaleX(0.92);">Operator</div>
<div class="t" style="left:394.5px;top:786.09px;width:60px;text-align:right;font-size:5.8px;line-height:5.8px;color:#444;transform-origin:100% 0;transform:scaleX(0.92)">China Telecom</div>
<div class="t" style="left:478.00px;top:746.24px;font-size:7.4px;line-height:7.4px;color:#2255b5;font-weight:bold;transform:scaleX(0.72);">Connected Devices</div>
<div class="t" style="left:483.50px;top:764.39px;font-size:19.5px;line-height:19.5px;color:#1c4cb0;font-weight:bold;transform:scaleX(0.88);">2</div>
<div class="t" style="left:484.00px;top:786.55px;font-size:6.2px;line-height:6.2px;color:#2f63c8;font-weight:normal;transform:scaleX(0.9);">View Details&nbsp; &#8250;</div>
<div class="a" style="left:415px;top:637.5px;width:2.5px;height:2.5px;border-radius:50%;background:#2a2a2a"></div>
<div class="a" style="left:239px;top:819px;width:354px;height:12px;border-radius:3px 3px 14px 14px/3px 3px 10px 10px;background:linear-gradient(180deg,#eeeeef 0%,#dcdcdd 45%,#c9c9ca 58%,#9a9a9c 72%,#7e7e80 100%);box-shadow:0 2px 3px rgba(0,0,0,0.10)"></div>
<div class="a" style="left:239px;top:819px;width:10px;height:8px;border-radius:3px 0 0 6px;background:linear-gradient(90deg,#9a9a9c,rgba(220,220,221,0))"></div>
<div class="a" style="left:583px;top:819px;width:10px;height:8px;border-radius:0 3px 6px 0;background:linear-gradient(270deg,#9a9a9c,rgba(220,220,221,0))"></div>
<div class="a" style="left:382px;top:819px;width:54px;height:3.5px;border-radius:0 0 4px 4px;background:linear-gradient(180deg,#a4a4a6,#cacacc)"></div>
</body></html>
